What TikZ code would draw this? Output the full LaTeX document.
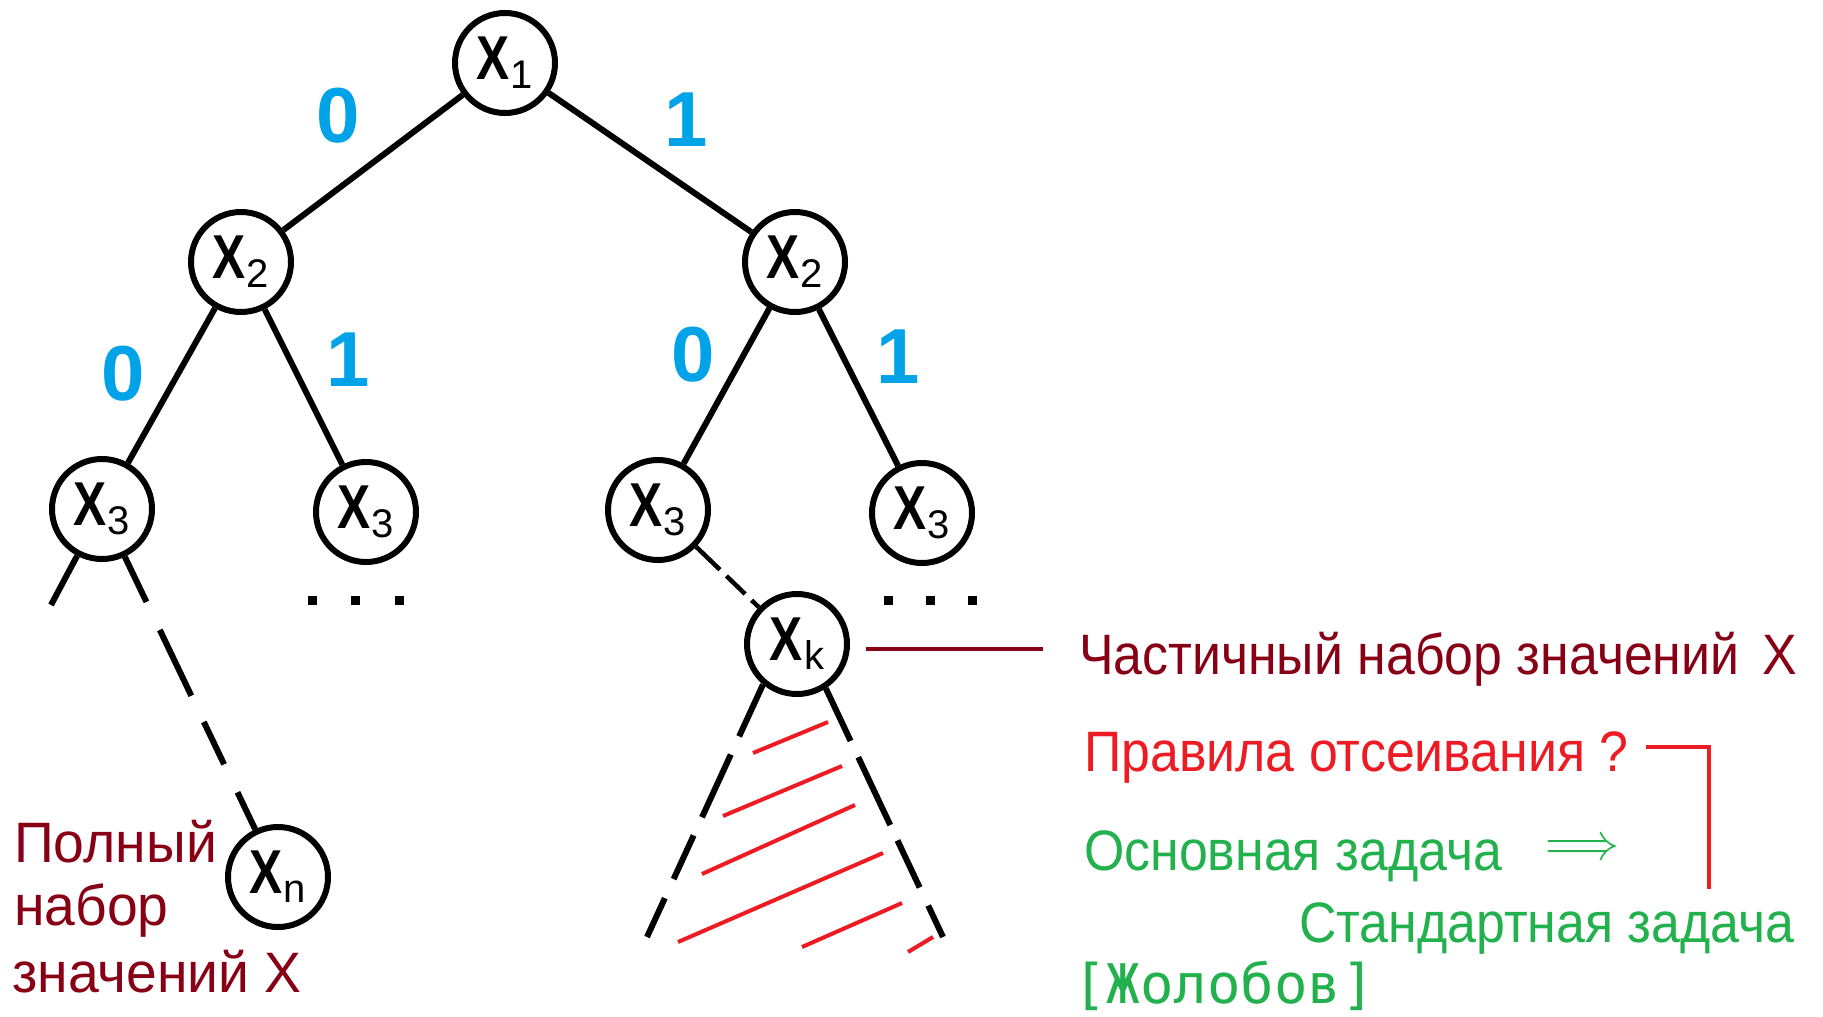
\documentclass[tikz,border=0pt]{standalone}
\usepackage{fontspec}
\usepackage{graphicx}
\setmainfont{Liberation Sans}
\newfontfamily\monof{DejaVu Sans Mono}
\definecolor{pdarkred}{HTML}{880015}
\definecolor{pred}{HTML}{ED1C24}
\definecolor{pgreen}{HTML}{22B14C}
\definecolor{pblue}{HTML}{00A2E8}
\newcommand{\nlab}[1]{\scalebox{0.8}[1]{\fontsize{62bp}{62bp}\selectfont\bfseries X}\kern1bp\raisebox{-9bp}{\fontsize{40bp}{40bp}\selectfont #1}}
\newcommand{\nar}[1]{\scalebox{0.91}[1]{#1}}
\begin{document}
\begin{tikzpicture}[x=1bp,y=-1bp,
  vnode/.style={circle,draw,line width=6bp,minimum size=100bp,inner sep=0pt,fill=white},
  edge/.style={line width=6bp},
  bit/.style={text=pblue,font=\fontsize{78bp}{78bp}\selectfont\bfseries,inner sep=0pt},
  hatch/.style={pred,line width=4bp},
  txt/.style={anchor=base west,inner sep=0pt,font=\fontsize{57bp}{57bp}\selectfont},
  dotsq/.style={fill=black,minimum size=9bp,inner sep=0pt,rectangle},
]
\fill[white] (0,0) rectangle (1823,1016);
\useasboundingbox (0,0) rectangle (1823,1016);

% tree nodes
\node[vnode] (X1)  at (505,63)  {\nlab{1}};
\node[vnode] (X2L) at (241,262) {\nlab{2}};
\node[vnode] (X2R) at (795,262) {\nlab{2}};
\node[vnode] (X3a) at (102,509) {\nlab{3}};
\node[vnode] (X3b) at (366,512) {\nlab{3}};
\node[vnode] (X3c) at (658,510) {\nlab{3}};
\node[vnode] (X3d) at (922,513) {\nlab{3}};
\node[vnode] (Xk)  at (797,644) {\nlab{k}};
\node[vnode] (Xn)  at (278,877) {\nlab{n}};

% edges
\draw[edge] (X1) -- (X2L);
\draw[edge] (X1) -- (X2R);
\draw[edge] (X2L) -- (X3a);
\draw[edge] (X2L) -- (X3b);
\draw[edge] (X2R) -- (X3c);
\draw[edge] (X2R) -- (X3d);

% bit labels
\node[bit] (b1) at (338,116) {0};
\node[bit] (b2) at (686,120) {1};
\node[bit] (b3) at (123,374) {0};
\node[bit] (b4) at (348,360) {1};
\node[bit] (b5) at (693,355) {0};
\node[bit] (b6) at (898,357) {1};

% branch from X3a
\coordinate (stubL) at (51,605);
\draw[edge] (X3a) -- (stubL);
\draw[edge,dash pattern=on 50bp off 31bp on 73bp off 29bp on 47bp off 31bp on 80bp] (X3a) -- (Xn);

% dashed to Xk
\draw[line width=4.5bp,dash pattern=on 33bp off 9bp on 26bp off 9bp on 40bp] (X3c) -- (Xk);

% ellipses
\foreach \i/\xx in {1/312,2/355,3/399} {\node[dotsq] (dl\i) at (\xx,600) {};}
\foreach \i/\xx in {1/888,2/930,3/972} {\node[dotsq] (dr\i) at (\xx,600) {};}

% subtree triangle
\coordinate (triL) at (647,937);
\coordinate (triR) at (943,937);
\draw[edge,dash pattern=on 57bp off 20bp on 69bp off 20bp on 48bp off 21bp on 60bp] (Xk.230) -- (triL);
\draw[edge,dash pattern=on 58bp off 18bp on 75bp off 17bp on 52bp off 20bp on 60bp] (Xk.303) -- (triR);

% hatching
\draw[hatch] (753,753) -- (828,722);
\draw[hatch] (723,816) -- (842,766);
\draw[hatch] (702,874) -- (855,805);
\draw[hatch] (678,942) -- (883,853);
\draw[hatch] (802,947) -- (902,903);
\draw[hatch] (908,952) -- (933,937);

% texts right
\node[txt,text=pdarkred] (part) at (1079,674) {\nar{Частичный набор значений\hspace{9bp} X}};
\node[txt,text=pred] (prav) at (1084,771) {\nar{Правила отсеивания ?}};
\node[txt,text=pgreen] (osn) at (1084,870) {\nar{Основная задача}};
\node[text=pgreen,inner sep=0pt] (arr) at (1582,850) {\scalebox{4.6}[5.2]{$\Longrightarrow$}};
\node[txt,text=pgreen] (std) at (1299,942) {\nar{Стандартная задача}};
\node[anchor=base west,inner sep=0pt,text=pgreen,font=\monof\fontsize{52bp}{52bp}\selectfont] (zh) at (1073,1003) {\scalebox{1.07}[1.05]{[Жолобов]}};

% texts left
\node[txt,text=pdarkred] (full1) at (14,862) {\scalebox{0.97}[1]{Полный}};
\node[txt,text=pdarkred] (full2) at (14,925) {\scalebox{0.97}[1]{набор}};
\node[txt,text=pdarkred] (full3) at (12,992) {\scalebox{0.97}[1]{значений X}};

% connectors
\draw[line width=4bp,pdarkred] ([xshift=16bp]Xk.-5) -- ([xshift=-36bp]Xk.-5 -| part.west);
\coordinate (brEnd) at (1709,889);
\draw[line width=4bp,pred] ([xshift=17bp,yshift=10bp]prav.east) -| (brEnd);
\end{tikzpicture}
\end{document}
